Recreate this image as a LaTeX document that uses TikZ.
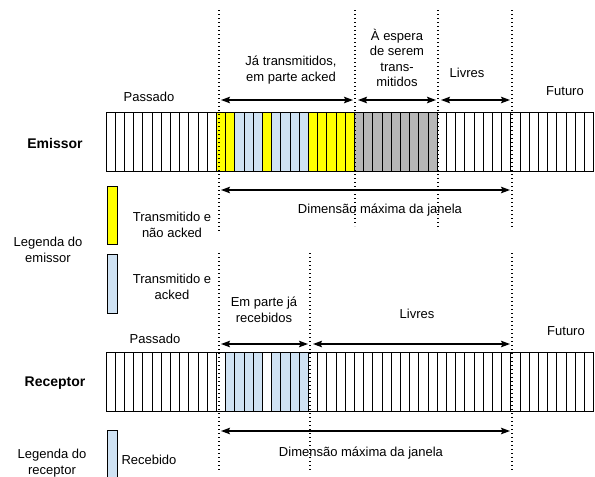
\documentclass[tikz,border=0pt]{standalone}
\usepackage{fontspec}
\setmainfont{Liberation Sans}
\usetikzlibrary{arrows.meta}

\definecolor{txyellow}{RGB}{255,255,0}
\definecolor{ackblue}{RGB}{207,226,243}
\definecolor{waitgrey}{RGB}{183,183,183}

\begin{document}
\begin{tikzpicture}[x=1pt, y=-1pt, >={Stealth[length=9pt,width=6.5pt,inset=1.5pt]},
  cellbox/.style={draw=black, line width=1pt},
  sep/.style={line width=1.3pt, dash pattern=on 1.2pt off 2.8pt},
  span/.style={<->, line width=1.5pt},
  lbl/.style={font=\fontsize{13}{15.5}\selectfont, align=center},
  side/.style={font=\fontsize{14}{16}\selectfont\bfseries}]
\useasboundingbox (0,0) rectangle (595,477);
\def\cw{9.2}

%--- Emissor buffer ---
\foreach \a/\b/\c in {12/14/txyellow, 14/17/ackblue, 17/18/txyellow,
                      18/22/ackblue, 22/27/txyellow, 27/36/waitgrey} {
  \fill[\c] ({106+\a*\cw},112) rectangle ({106+\b*\cw},171);
}
\foreach \i in {0,...,52} {
  \draw[cellbox] ({106+\i*\cw},112) rectangle +(\cw,59);
}
\node[side] (emissor) at (55,143) {Emissor};

% Separators
\foreach \n/\x/\y in {eA/219/231, eB/355/226, eC/438/229, eD/512/229} {
  \coordinate (\n t) at (\x,10);
  \coordinate (\n b) at (\x,\y);
  \draw[sep] (\n t) -- (\n b);
}

% Zones above the buffer
\coordinate (s1) at (221,100);  \coordinate (e1) at (353,100);
\coordinate (s2) at (358,100);  \coordinate (e2) at (436,100);
\coordinate (s3) at (441,100);  \coordinate (e3) at (510,100);
\draw[span] (s1) -- (e1);
\draw[span] (s2) -- (e2);
\draw[span] (s3) -- (e3);
\node[lbl] (jatx) at (291,70) {Já transmitidos,\\em parte acked};
\node[lbl] (espera) at (397,58) {À espera\\de serem\\trans-\\mitidos};
\node[lbl] (livresE) at (467,73) {Livres};
\node[lbl] (passE) at (149,97) {Passado};
\node[lbl] (futE) at (565,91) {Futuro};

% Maximum window
\coordinate (dA) at (221,190);  \coordinate (dB) at (510,190);
\draw[span] (dA) -- (dB);
\node[lbl] (dimE) at (380,210) {Dimensão máxima da janela};

% Legend
\fill[txyellow, draw=black, line width=1pt] (107,186) rectangle (117,244);
\fill[ackblue, draw=black, line width=1pt] (107,254) rectangle (117,313);
\node[lbl] (legTx) at (172,225) {Transmitido e\\não acked};
\node[lbl] (legAck) at (172,287) {Transmitido e\\acked};
\node[lbl] (legE) at (48,250) {Legenda do\\emissor};

%--- Receptor buffer ---
\foreach \a/\b in {13/17, 18/22} {
  \fill[ackblue] ({106+\a*\cw},352) rectangle ({106+\b*\cw},411);
}
\foreach \i in {0,...,52} {
  \draw[cellbox] ({106+\i*\cw},352) rectangle +(\cw,59);
}
\node[side] (receptor) at (55,383) {Receptor};

\foreach \n/\x in {rA/219, rB/310, rC/512} {
  \coordinate (\n t) at (\x,253);
  \coordinate (\n b) at (\x,472);
  \draw[sep] (\n t) -- (\n b);
}

\coordinate (r1) at (221,344);  \coordinate (q1) at (308,344);
\coordinate (r2) at (313,344);  \coordinate (q2) at (510,344);
\draw[span] (r1) -- (q1);
\draw[span] (r2) -- (q2);
\node[lbl] (recebidos) at (264,310) {Em parte já\\recebidos};
\node[lbl] (livresR) at (417,314) {Livres};
\node[lbl] (passR) at (155,339) {Passado};
\node[lbl] (futR) at (566,331) {Futuro};

\coordinate (fA) at (221,431);  \coordinate (fB) at (510,431);
\draw[span] (fA) -- (fB);
\node[lbl] (dimR) at (361,453) {Dimensão máxima da janela};

\fill[ackblue, draw=black, line width=1pt] (107,430) rectangle (117,482);
\node[lbl] (legRec) at (149,460) {Recebido};
\node[lbl] (legR) at (52,463) {Legenda do\\receptor};
\end{tikzpicture}
\end{document}
